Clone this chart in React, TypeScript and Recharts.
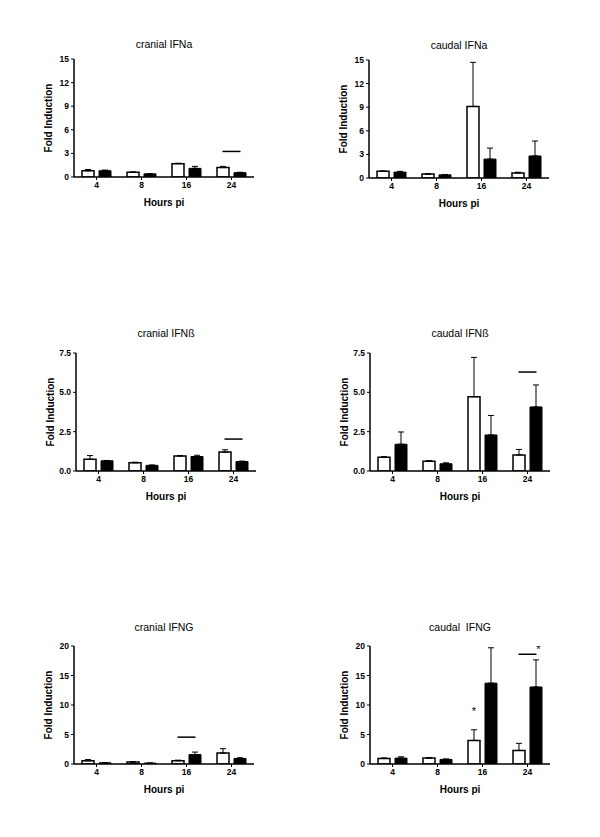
import { ComposedChart, Bar, ErrorBar, Line, XAxis, YAxis } from "recharts"

const hours = ["4", "8", "16", "24"]

// cranial IFNa
const cranialIFNaOpen = [0.8, 0.6, 1.7, 1.2]
const cranialIFNaOpenSem = [0.15, 0.05, 0.05, 0.15]
const cranialIFNaFilled = [0.8, 0.4, 1.1, 0.55]
const cranialIFNaFilledSem = [0.08, 0.03, 0.25, 0.05]
const cranialIFNaSig = [null, null, null, 3.25]

// caudal IFNa
const caudalIFNaOpen = [0.85, 0.5, 9.1, 0.65]
const caudalIFNaOpenSem = [0.05, 0.05, 5.6, 0.08]
const caudalIFNaFilled = [0.75, 0.4, 2.4, 2.8]
const caudalIFNaFilledSem = [0.1, 0.05, 1.4, 1.9]
const caudalIFNaSig = [null, null, null, null]

// cranial IFNß
const cranialIFNbOpen = [0.74, 0.52, 0.95, 1.2]
const cranialIFNbOpenSem = [0.24, 0.04, 0.03, 0.15]
const cranialIFNbFilled = [0.65, 0.36, 0.92, 0.6]
const cranialIFNbFilledSem = [0.02, 0.02, 0.08, 0.03]
const cranialIFNbSig = [null, null, null, 2.03]

// caudal IFNß
const caudalIFNbOpen = [0.87, 0.62, 4.72, 1.02]
const caudalIFNbOpenSem = [0.04, 0.04, 2.5, 0.35]
const caudalIFNbFilled = [1.7, 0.46, 2.29, 4.07]
const caudalIFNbFilledSem = [0.78, 0.06, 1.24, 1.4]
const caudalIFNbSig = [null, null, null, 6.29]

// cranial IFNG
const cranialIFNGOpen = [0.55, 0.32, 0.55, 1.85]
const cranialIFNGOpenSem = [0.2, 0.05, 0.1, 0.75]
const cranialIFNGFilled = [0.2, 0.15, 1.6, 0.95]
const cranialIFNGFilledSem = [0.03, 0.02, 0.42, 0.1]
const cranialIFNGSig = [null, null, 4.55, null]

// caudal IFNG
const caudalIFNGOpen = [0.95, 1.0, 4.0, 2.3]
const caudalIFNGOpenSem = [0.08, 0.1, 1.8, 1.2]
const caudalIFNGFilled = [1.0, 0.78, 13.7, 13.05]
const caudalIFNGFilledSem = [0.22, 0.08, 6.0, 4.6]
const caudalIFNGSig = [null, null, null, 18.6]
const caudalIFNGStarOpen = [null, null, 9.2, null]
const caudalIFNGStarSig = [null, null, null, 19.6]

const ticks15 = [0, 3, 6, 9, 12, 15]
const ticks75 = [0, 2.5, 5, 7.5]
const ticks20 = [0, 5, 10, 15, 20]

const FONT = '"Liberation Sans", Arial, sans-serif'
const PLOT_W = 180
const PLOT_H = 118

type Panel = {
  title: string
  open: number[]
  openSem: number[]
  filled: number[]
  filledSem: number[]
  sig: (number | null)[]
  starOpen?: (number | null)[]
  starSig?: (number | null)[]
  ticks: number[]
  decimals: number
  plotLeft: number
  plotTop: number
  titleY: number
}

const panels: Panel[] = [
  { title: "cranial IFNa", open: cranialIFNaOpen, openSem: cranialIFNaOpenSem, filled: cranialIFNaFilled, filledSem: cranialIFNaFilledSem, sig: cranialIFNaSig, ticks: ticks15, decimals: 0, plotLeft: 74, plotTop: 59, titleY: 44 },
  { title: "caudal IFNa", open: caudalIFNaOpen, openSem: caudalIFNaOpenSem, filled: caudalIFNaFilled, filledSem: caudalIFNaFilledSem, sig: caudalIFNaSig, ticks: ticks15, decimals: 0, plotLeft: 369, plotTop: 60, titleY: 45 },
  { title: "cranial IFNß", open: cranialIFNbOpen, openSem: cranialIFNbOpenSem, filled: cranialIFNbFilled, filledSem: cranialIFNbFilledSem, sig: cranialIFNbSig, ticks: ticks75, decimals: 1, plotLeft: 76, plotTop: 353, titleY: 333 },
  { title: "caudal IFNß", open: caudalIFNbOpen, openSem: caudalIFNbOpenSem, filled: caudalIFNbFilled, filledSem: caudalIFNbFilledSem, sig: caudalIFNbSig, ticks: ticks75, decimals: 1, plotLeft: 370, plotTop: 353, titleY: 333 },
  { title: "cranial IFNG", open: cranialIFNGOpen, openSem: cranialIFNGOpenSem, filled: cranialIFNGFilled, filledSem: cranialIFNGFilledSem, sig: cranialIFNGSig, ticks: ticks20, decimals: 0, plotLeft: 74, plotTop: 646, titleY: 627 },
  { title: "caudal  IFNG", open: caudalIFNGOpen, openSem: caudalIFNGOpenSem, filled: caudalIFNGFilled, filledSem: caudalIFNGFilledSem, sig: caudalIFNGSig, starOpen: caudalIFNGStarOpen, starSig: caudalIFNGStarSig, ticks: ticks20, decimals: 0, plotLeft: 370, plotTop: 646, titleY: 627 },
]

const tickStyle = { fontSize: 8.5, fontWeight: "bold", fill: "#000", fontFamily: FONT }

// significance bar drawn over the category
const SigDot = (props: any) => {
  const { cx, cy, value, index } = props
  if (cy == null || value == null) return <g key={`s${index}`} />
  return <line key={`s${index}`} x1={cx - 9} x2={cx + 9} y1={cy} y2={cy} stroke="#000" strokeWidth={1.5} />
}

const starDot = (dx: number) => (props: any) => {
  const { cx, cy, value, index } = props
  if (cy == null || value == null) return <g key={`t${index}`} />
  return (
    <text key={`t${index}`} x={cx + dx} y={cy + 5} textAnchor="middle" fontSize={11} fontFamily={FONT} fill="#000">
      *
    </text>
  )
}

function PanelChart({ p }: { p: Panel }) {
  const data = hours.map((h, i) => ({
    hour: h,
    open: p.open[i],
    openErr: [0, p.openSem[i]],
    filled: p.filled[i],
    filledErr: [0, p.filledSem[i]],
    sig: p.sig[i],
    starOpen: p.starOpen ? p.starOpen[i] : null,
    starSig: p.starSig ? p.starSig[i] : null,
  }))
  const yMax = p.ticks[p.ticks.length - 1]

  return (
    <>
      <div
        style={{
          position: "absolute",
          left: p.plotLeft,
          width: PLOT_W,
          top: p.titleY - 7,
          lineHeight: "14px",
          textAlign: "center",
          fontSize: 10.5,
          fontFamily: FONT,
          whiteSpace: "pre",
        }}
      >
        {p.title}
      </div>
      <div style={{ position: "absolute", left: p.plotLeft - 50, top: p.plotTop - 10 }}>
        <ComposedChart
          width={50 + PLOT_W + 10}
          height={10 + PLOT_H + 30 + 8}
          data={data}
          margin={{ top: 10, right: 10, bottom: 8, left: 20 }}
          barSize={12}
          barGap={5}
        >
          <XAxis
            dataKey="hour"
            height={30}
            interval={0}
            axisLine={{ stroke: "#000", strokeWidth: 1.5 }}
            tickLine={{ stroke: "#000" }}
            tickSize={3}
            tickMargin={2}
            tick={tickStyle}
            label={{ value: "Hours pi", position: "insideBottom", offset: 1, style: { fontSize: 10, fontWeight: "bold", fill: "#000", fontFamily: FONT } }}
          />
          <YAxis
            width={30}
            domain={[0, yMax]}
            ticks={p.ticks}
            allowDataOverflow
            interval={0}
            axisLine={{ stroke: "#000", strokeWidth: 1.5 }}
            tickLine={{ stroke: "#000" }}
            tickSize={3}
            tickMargin={2}
            tick={tickStyle}
            tickFormatter={(v: number) => v.toFixed(p.decimals)}
            label={{ value: "Fold Induction", angle: -90, position: "insideLeft", offset: 4, style: { textAnchor: "middle", fontSize: 10, fontWeight: "bold", fill: "#000", fontFamily: FONT } }}
          />
          <Bar dataKey="open" fill="#fff" stroke="#000" strokeWidth={1.5} isAnimationActive={false}>
            <ErrorBar dataKey="openErr" width={3} stroke="#000" strokeWidth={1} />
          </Bar>
          <Bar dataKey="filled" fill="#000" stroke="#000" strokeWidth={1} isAnimationActive={false}>
            <ErrorBar dataKey="filledErr" width={3} stroke="#000" strokeWidth={1} />
          </Bar>
          <Line dataKey="sig" stroke="none" dot={SigDot} activeDot={false} isAnimationActive={false} />
          <Line dataKey="starOpen" stroke="none" dot={starDot(-8.5)} activeDot={false} isAnimationActive={false} />
          <Line dataKey="starSig" stroke="none" dot={starDot(11)} activeDot={false} isAnimationActive={false} />
        </ComposedChart>
      </div>
    </>
  )
}

export default function App() {
  return (
    <div style={{ position: "absolute", left: 0, top: 0, width: 600, height: 837, background: "#fff", fontFamily: FONT }}>
      {panels.map((p) => (
        <PanelChart key={p.title} p={p} />
      ))}
    </div>
  )
}
